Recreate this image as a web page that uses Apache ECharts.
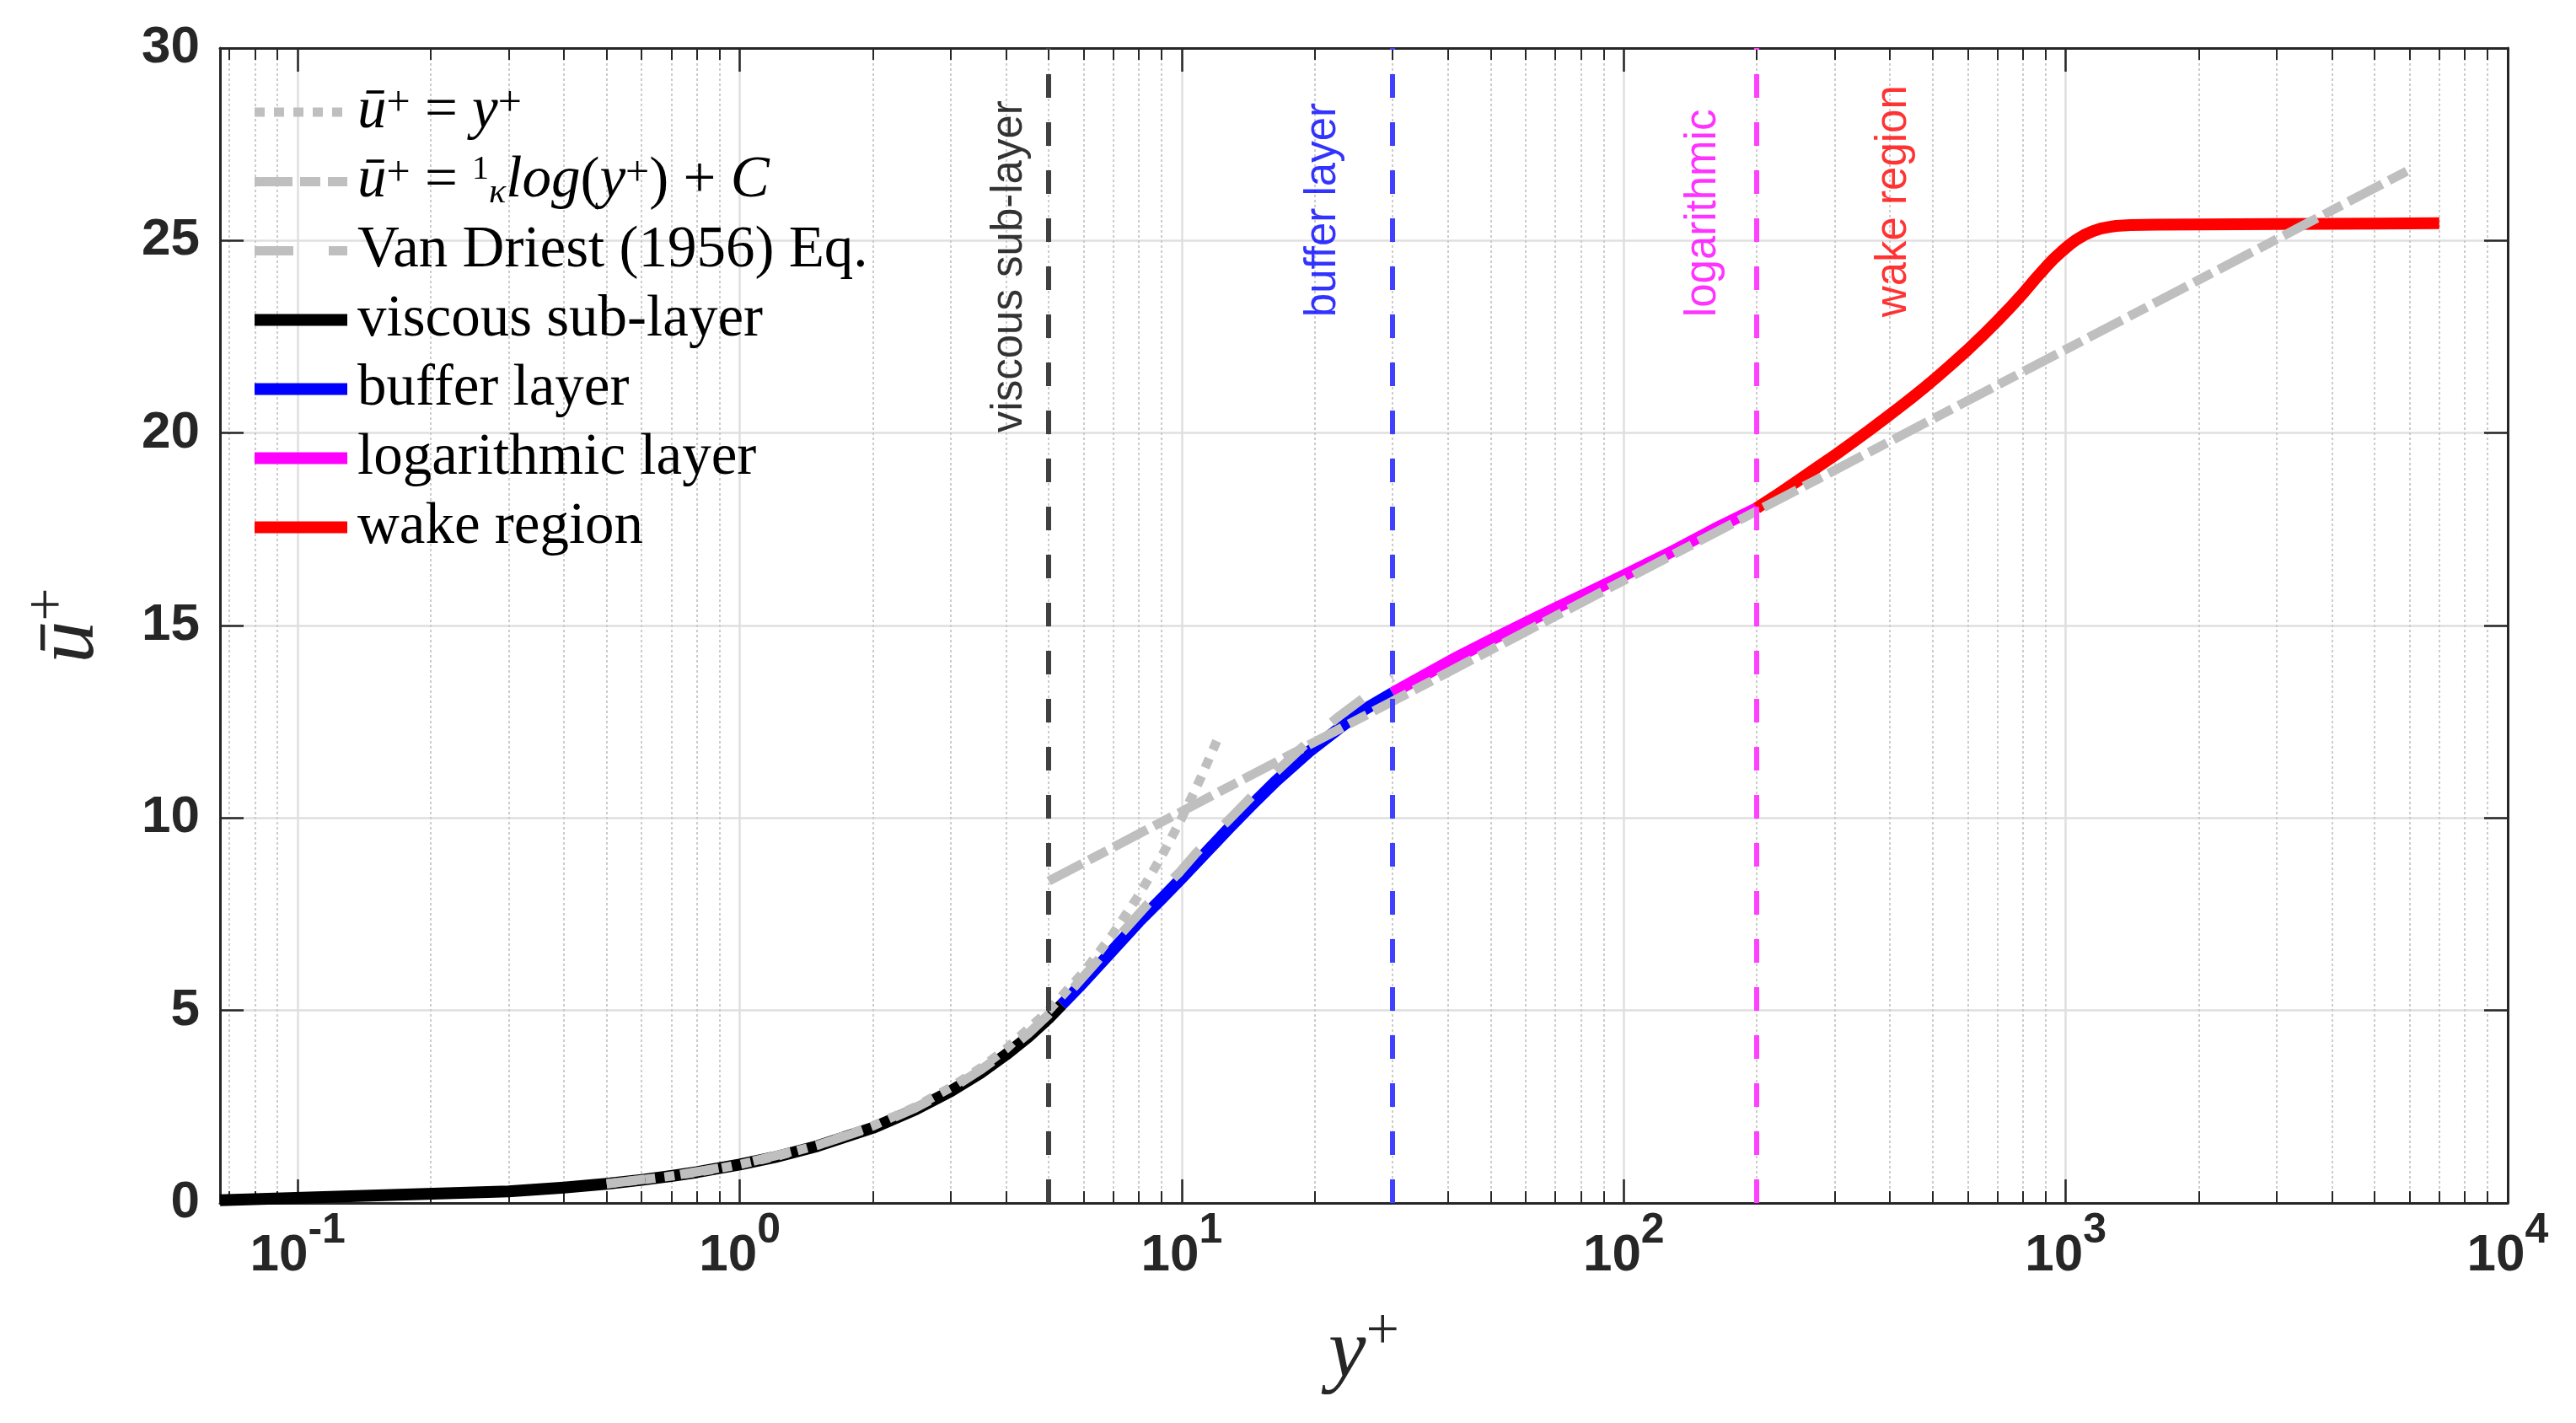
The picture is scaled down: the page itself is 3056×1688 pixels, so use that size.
<!DOCTYPE html>
<html><head><meta charset="utf-8">
<script src="https://cdn.jsdelivr.net/npm/echarts@6/dist/echarts.min.js"></script>
<style>html,body{margin:0;padding:0;background:#fff}#c{width:3056px;height:1688px}</style>
</head><body><div id="c"></div>
<script>
// ---- data ----
const xMin = 0.0667, xMax = 10000;
const yTicks = [0, 5, 10, 15, 20, 25, 30];

const viscousX = [0.0667, 0.3, 0.4, 0.5, 0.6, 0.7, 0.8, 1, 1.2, 1.5, 2, 2.5, 3, 3.5, 4, 4.5, 5, 5.35];
const viscousU = [0.07, 0.3, 0.4, 0.5, 0.6, 0.7, 0.8, 1.0, 1.19, 1.48, 1.95, 2.43, 2.9, 3.37, 3.85, 4.32, 4.8, 5.15];

const bufferX = [5.35, 6, 7, 8, 9, 10, 11, 12.9, 14.4, 16.3, 19.4, 22.9, 26, 30];
const bufferU = [5.15, 5.74, 6.58, 7.31, 7.9, 8.44, 8.94, 9.78, 10.34, 10.95, 11.72, 12.36, 12.83, 13.25];

const logLayerX = [30, 35, 42, 50, 60, 70, 83, 100, 130, 160, 200];
const logLayerU = [13.25, 13.68, 14.18, 14.62, 15.07, 15.45, 15.85, 16.3, 16.95, 17.5, 18.05];

const wakeX = [200, 224, 250, 275, 300, 330, 360, 390, 420, 450, 480, 512, 550, 600, 650, 700, 750, 800, 850, 900, 940, 980, 1020, 1060, 1100, 1150, 1200, 1250, 1300, 1400, 1600, 2000, 3000, 5000, 7000];
const wakeU = [18.05, 18.42, 18.79, 19.12, 19.42, 19.76, 20.08, 20.38, 20.66, 20.93, 21.19, 21.46, 21.77, 22.16, 22.54, 22.91, 23.27, 23.62, 23.98, 24.3, 24.53, 24.72, 24.89, 25.03, 25.14, 25.24, 25.31, 25.35, 25.38, 25.4, 25.41, 25.42, 25.43, 25.44, 25.45];

const linearX = [0.5, 0.6, 0.7, 0.8, 0.9, 1, 1.2, 1.5, 2, 2.5, 3, 3.5, 4, 5, 6, 7, 8, 9, 10, 11, 12];
const linearU = [0.5, 0.6, 0.7, 0.8, 0.9, 1, 1.2, 1.5, 2, 2.5, 3, 3.5, 4, 5, 6, 7, 8, 9, 10, 11, 12];

const lawX = [5, 10, 100, 1000, 6000];
const lawU = [8.36, 10.17, 16.17, 22.17, 26.84];

const vdX = [0.5, 0.7, 1, 1.5, 2, 2.5, 3, 3.5, 4, 4.5, 5, 5.5, 6.4, 7.3, 8.4, 9.9, 10.8, 12.9, 16, 19.4, 22.8, 26, 30];
const vdU = [0.5, 0.7, 1.0, 1.5, 1.98, 2.47, 2.96, 3.45, 3.93, 4.4, 4.9, 5.4, 6.25, 7.0, 7.78, 8.6, 9.1, 10.0, 11.1, 12.0, 12.66, 13.15, 13.65];

const boundX = [5, 30, 200];
const boundColors = ['#404040', '#4040ff', '#ff40ff'];

const labelX = [4.1, 21, 152, 410];
const labelU = [20, 23, 23, 23];
const labelText = ['viscous sub-layer', 'buffer layer', 'logarithmic', 'wake region'];
const labelColors = ['#000000', '#0000ff', '#ff00ff', '#ff0000'];

const names = ['ū+ = y+', 'ū+ = 1/κ log(y+) + C', 'Van Driest (1956) Eq.', 'viscous sub-layer', 'buffer layer', 'logarithmic layer', 'wake region'];
const legendRich = {
  'ū+ = y+': '{i|ū}{s|+} = {i|y}{s|+}',
  'ū+ = 1/κ log(y+) + C': '{i|ū}{s|+} = {fn|1}{fd|κ}{i|log}({i|y}{s|+}) + {i|C}'
};

// ---- chart ----
const zip = (xs, ys) => xs.map((x, i) => [x, ys[i]]);
const axisColor = '#262626';
const serif = 'Liberation Serif, Times New Roman, serif';
const sans = 'Liberation Sans, Arial, Helvetica, sans-serif';

function lineSeries(name, xs, ys, color, width, type, z) {
  return {
    name, type: 'line', data: zip(xs, ys), symbol: 'none', showSymbol: false,
    z, silent: true, animation: false, emphasis: { disabled: true },
    lineStyle: { color, width, type, cap: 'butt', join: 'round' },
    itemStyle: { color }
  };
}

function xFmt(v) {
  const e = Math.round(Math.log10(v));
  const p = Math.pow(10, e);
  if (Math.abs(v - p) < 1e-6 * p) return '{b|10}{s|' + e + '}';
  return '';
}

const nameRich = {
  i: { fontFamily: serif, fontStyle: 'italic', fontSize: 100, lineHeight: 100, color: axisColor, verticalAlign: 'bottom' },
  s: { fontFamily: serif, fontSize: 70, lineHeight: 70, padding: [0, 0, 40, 0], color: axisColor, verticalAlign: 'bottom' }
};

const LH = 68;
const chart = echarts.init(document.getElementById('c'), null, { width: 3056, height: 1688 });
chart.setOption({
  animation: false,
  backgroundColor: '#ffffff',
  grid: { left: 261, right: 81, top: 57, bottom: 261, containLabel: false },
  legend: {
    data: names, orient: 'vertical', left: 290, top: 93,
    itemWidth: 110, itemHeight: 14, itemGap: 13, selectedMode: false,
    itemStyle: { opacity: 0, color: 'transparent', borderWidth: 0 },
    lineStyle: { width: 'inherit', type: 'inherit', cap: 'butt' },
    formatter: n => legendRich[n] || n,
    textStyle: {
      fontFamily: serif, fontSize: 69, lineHeight: LH, color: '#000', padding: [0, 0, 0, 7],
      rich: {
        i: { fontFamily: serif, fontStyle: 'italic', fontSize: 69, lineHeight: LH, verticalAlign: 'bottom', color: '#000' },
        s: { fontFamily: serif, fontSize: 50, lineHeight: 50, padding: [0, 0, 18, 0], verticalAlign: 'bottom', color: '#000' },
        fn: { fontFamily: serif, fontSize: 40, lineHeight: 40, padding: [0, 0, 28, 0], verticalAlign: 'bottom', color: '#000' },
        fd: { fontFamily: serif, fontStyle: 'italic', fontSize: 42, lineHeight: 42, padding: [26, 0, 0, 0], verticalAlign: 'bottom', color: '#000' }
      }
    }
  },
  xAxis: [{
    type: 'log', logBase: 10, min: xMin, max: xMax, position: 'bottom',
    axisLine: { show: true, onZero: false, lineStyle: { color: axisColor, width: 3 } },
    axisTick: { show: true, inside: true, length: 28, lineStyle: { color: axisColor, width: 2.5 } },
    minorTick: { show: true, splitNumber: 9, length: 14, lineStyle: { color: axisColor, width: 2 } },
    splitLine: { show: true, lineStyle: { color: '#dfdfdf', width: 2.5 } },
    minorSplitLine: { show: true, lineStyle: { color: '#cccccc', width: 2, type: [3, 3] } },
    axisLabel: {
      margin: 32, formatter: xFmt, color: axisColor,
      rich: {
        b: { fontFamily: sans, fontWeight: 'bold', fontSize: 62, lineHeight: 62, color: axisColor, verticalAlign: 'bottom' },
        s: { fontFamily: sans, fontWeight: 'bold', fontSize: 50, lineHeight: 50, padding: [0, 0, 36, 0], color: axisColor, verticalAlign: 'bottom' }
      }
    },
    name: '{i|y}{s|+}', nameLocation: 'middle', nameGap: 130,
    nameTextStyle: { rich: nameRich }
  }, {
    type: 'log', logBase: 10, min: xMin, max: xMax, position: 'top',
    axisLine: { show: true, onZero: false, lineStyle: { color: axisColor, width: 3 } },
    axisTick: { show: true, inside: true, length: 28, lineStyle: { color: axisColor, width: 2.5 } },
    minorTick: { show: true, splitNumber: 9, length: 14, lineStyle: { color: axisColor, width: 2 } },
    splitLine: { show: false }, minorSplitLine: { show: false },
    axisLabel: { show: false }
  }],
  yAxis: [{
    type: 'value', min: yTicks[0], max: yTicks[yTicks.length - 1], interval: 5, position: 'left',
    axisLine: { show: true, onZero: false, lineStyle: { color: axisColor, width: 3 } },
    axisTick: { show: true, inside: true, length: 28, lineStyle: { color: axisColor, width: 2.5 } },
    splitLine: { show: true, lineStyle: { color: '#dfdfdf', width: 2.5 } },
    axisLabel: { margin: 24, fontSize: 62, fontWeight: 'bold', fontFamily: sans, color: axisColor },
    name: '{i|ū}{s|+}', nameLocation: 'middle', nameRotate: 90, nameGap: 127,
    nameTextStyle: { rich: nameRich }
  }, {
    type: 'value', min: yTicks[0], max: yTicks[yTicks.length - 1], interval: 5, position: 'right',
    axisLine: { show: true, onZero: false, lineStyle: { color: axisColor, width: 3 } },
    axisTick: { show: true, inside: true, length: 28, lineStyle: { color: axisColor, width: 2.5 } },
    splitLine: { show: false }, axisLabel: { show: false }
  }],
  series: [
    lineSeries(names[3], viscousX, viscousU, '#000000', 14, 'solid', 2),
    lineSeries(names[4], bufferX, bufferU, '#0000ff', 14, 'solid', 2),
    lineSeries(names[5], logLayerX, logLayerU, '#ff00ff', 14, 'solid', 2),
    lineSeries(names[6], wakeX, wakeU, '#ff0000', 14, 'solid', 2),
    lineSeries(names[0], linearX, linearU, '#bfbfbf', 11, [12, 11], 3),
    lineSeries(names[1], lawX, lawU, '#bfbfbf', 11, [45, 9, 24, 9], 3),
    lineSeries(names[2], vdX, vdU, '#bfbfbf', 11, [46, 42], 3),
    {
      name: 'bounds', type: 'line', data: [], z: 4, silent: true,
      markLine: {
        silent: true, symbol: ['none', 'none'], label: { show: false }, animation: false,
        data: boundX.map((x, i) => ({ xAxis: x, lineStyle: { color: boundColors[i], width: 6, type: [28, 29], cap: 'butt' } }))
      }
    },
    {
      name: 'regionLabels', type: 'scatter', z: 5, silent: true, symbolSize: 1,
      itemStyle: { color: 'transparent' },
      data: labelX.map((x, i) => ({ value: [x, labelU[i]], label: { color: labelColors[i], formatter: labelText[i] } })),
      label: { show: true, position: [0, 0], rotate: 90, align: 'left', verticalAlign: 'middle', fontSize: 51, fontFamily: sans }
    }
  ]
});
</script></body></html>
